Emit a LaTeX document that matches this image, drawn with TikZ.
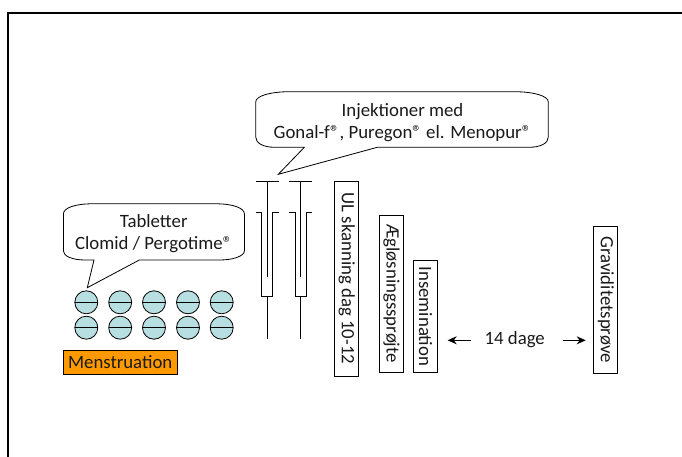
\documentclass[tikz,border=0pt]{standalone}
\usepackage{fontspec}
\setmainfont{Carlito}
\usetikzlibrary{arrows.meta}
\definecolor{pill}{HTML}{B7DEE0}
\definecolor{mensb}{HTML}{FF9900}
\definecolor{txt}{HTML}{1A1A1A}
\tikzset{
  x=1pt,y=-1pt,
  frame/.style={draw=black,line width=2pt,line cap=butt,line join=miter},
  ink/.style={draw=black,line width=0.8pt},
  bubble/.style={ink,fill=white,line join=miter},
  tbl/.style={ink,fill=pill},
  vbox/.style={ink,fill=white,rotate=-90,minimum height=24pt,inner sep=0pt,font=\fontsize{18.8}{22}\selectfont,text=txt},
  lbl/.style={font=\fontsize{18.8}{22}\selectfont,align=center,inner sep=0pt,text=txt},
  arr/.style={ink,-{Stealth[length=9pt,width=8pt]}}
}
\newcommand{\pillat}[2]{\draw[tbl] (#1,#2) circle (11.5pt);\draw[ink] (#1-11.5,#2) -- (#1+11.5,#2);}
\newcommand{\syr}[1]{%
  \draw[ink] (#1-11.5,181) -- (#1+11.5,181);
  \draw[ink] (#1,181) -- (#1,276.5);
  \draw[ink] (#1-11.5,212.7) -- (#1-5.7,212.7) -- (#1-5.7,296.7) -- (#1+5.7,296.7) -- (#1+5.7,212.7) -- (#1+11.5,212.7);
  \draw[ink] (#1,296.7) -- (#1,339.3);
}
\begin{document}
\begin{tikzpicture}
\useasboundingbox (0,0) rectangle (682,457);
\draw[frame] (8,457) -- (8,13) -- (682,13);
% left bubble
\draw[bubble] (87.3,287.7) -- (94,260) -- (85,260) .. controls (72,260) and (63.4,256) .. (63.4,251) -- (63.4,214) .. controls (63.4,208) and (75,203.8) .. (92,203.8) -- (216,203.8) .. controls (233,203.8) and (244.4,208) .. (244.4,214) -- (244.4,251) .. controls (244.4,256) and (233,260) .. (220,260) -- (139.3,260) -- cycle;
\node[lbl] (tab) at (153.7,234) {Tabletter\\Clomid / Pergotime®};
\foreach \x in {86.3,120.2,154,188,221.7}{\pillat{\x}{302.3}\pillat{\x}{327.7}}
\node[ink,fill=mensb,minimum width=113.5pt,minimum height=24.3pt,inner sep=0pt,lbl] (men) at (120.2,362.2) {Menstruation};
% syringes
\syr{267}\syr{300.7}
% right bubble
\draw[bubble] (278.3,174.3) -- (304.3,147.3) -- (275,147.3) .. controls (263,147.3) and (255.7,143) .. (255.7,137) -- (255.7,102) .. controls (255.7,96) and (270,91.7) .. (290,91.7) -- (514,91.7) .. controls (534,91.7) and (548.3,96) .. (548.3,102) -- (548.3,137) .. controls (548.3,143) and (541,147.3) .. (529,147.3) -- (377.3,147.3) -- cycle;
\node[lbl] (inj) at (402.5,122.5) {Injektioner med\\Gonal-f®, Puregon® el. Menopur®};
% boxes
\node[vbox,minimum width=195pt] (ul) at (346.7,278.5) {UL skanning dag 10-12};
\node[vbox,minimum width=157.5pt] (aeg) at (391.5,293.7) {Ægløsningssprøjte};
\node[vbox,minimum width=112.7pt] (ins) at (425.5,316.3) {Insemination};
\node[vbox,minimum width=147pt] (gra) at (605.8,299.5) {Graviditetsprøve};
% arrows
\node[lbl] (dage) at (514.7,340) {14 dage};
\coordinate (al) at (447.7,340.3);
\coordinate (ar) at (585.7,340.3);
\draw[arr] (470.7,340.3) -- (al);
\draw[arr] (562.7,340.3) -- (ar);
\end{tikzpicture}
\end{document}
